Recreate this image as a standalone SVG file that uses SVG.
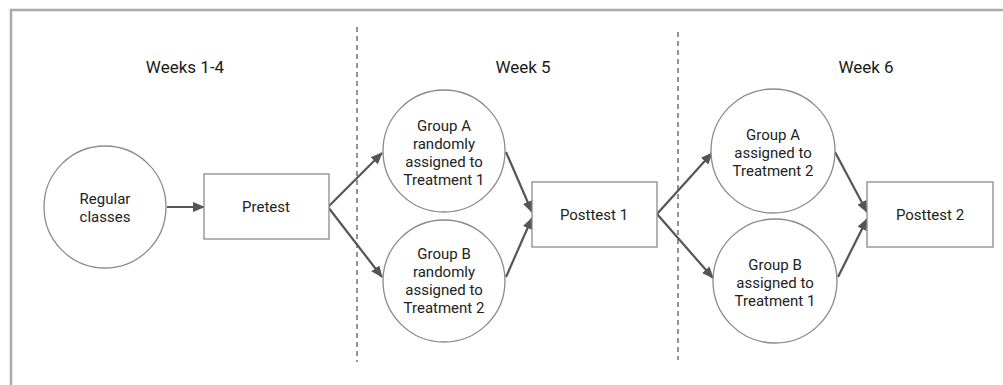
<svg xmlns="http://www.w3.org/2000/svg" width="1003" height="385" viewBox="0 0 1003 385">
<defs>
<marker id="ah" markerWidth="12" markerHeight="10" refX="11" refY="5" orient="auto" markerUnits="userSpaceOnUse">
<path d="M0,0 L12,5 L0,10 Z" fill="#555"/>
</marker>
<style>
.node{fill:#fff;stroke:#8a8a8a;stroke-width:1.3}
.t{font-family:Roboto,"Liberation Sans",sans-serif;font-size:15px;fill:#222;text-anchor:middle}
.h{font-family:Roboto,"Liberation Sans",sans-serif;font-size:17px;fill:#1a1a1a;text-anchor:middle}
.c{stroke:#555;stroke-width:2.2;fill:none;marker-end:url(#ah)}
.d{stroke:#666;stroke-width:1.4;stroke-dasharray:5,4}
</style>
</defs>
<rect width="1003" height="385" fill="#fff"/>
<g id="frame" stroke="#aaa" stroke-width="2.5" fill="none">
<path d="M11,385 L11,10 L1003,10"/>
</g>
<g id="dividers">
<line class="d" x1="357" y1="27" x2="357" y2="362"/>
<line class="d" x1="678" y1="32" x2="678" y2="360"/>
</g>
<g id="headers">
<text class="h" x="185" y="73">Weeks 1-4</text>
<text class="h" x="523" y="73">Week 5</text>
<text class="h" x="866" y="73">Week 6</text>
</g>
<g id="connectors">
<line class="c" x1="167" y1="207" x2="204" y2="207"/>
<line class="c" x1="328" y1="207" x2="382" y2="153"/>
<line class="c" x1="328" y1="207" x2="382" y2="277"/>
<line class="c" x1="506" y1="152" x2="532" y2="212"/>
<line class="c" x1="506" y1="277" x2="532" y2="218"/>
<line class="c" x1="657" y1="214" x2="712" y2="153"/>
<line class="c" x1="657" y1="214" x2="713" y2="278"/>
<line class="c" x1="835" y1="152" x2="867" y2="212"/>
<line class="c" x1="838" y1="277" x2="867" y2="219"/>
</g>
<g id="regular">
<circle class="node" cx="105" cy="207" r="61"/>
<text class="t" x="105" y="204">Regular</text>
<text class="t" x="105" y="222">classes</text>
</g>
<g id="pretest">
<rect class="node" x="204" y="174" width="125" height="65"/>
<text class="t" x="266" y="212">Pretest</text>
</g>
<g id="groupA5">
<circle class="node" cx="444" cy="151" r="61"/>
<text class="t" x="444" y="131">Group A</text>
<text class="t" x="444" y="149">randomly</text>
<text class="t" x="444" y="167">assigned to</text>
<text class="t" x="444" y="185">Treatment 1</text>
</g>
<g id="groupB5">
<circle class="node" cx="444" cy="281" r="61"/>
<text class="t" x="444" y="259">Group B</text>
<text class="t" x="444" y="277">randomly</text>
<text class="t" x="444" y="295">assigned to</text>
<text class="t" x="444" y="313">Treatment 2</text>
</g>
<g id="posttest1">
<rect class="node" x="532" y="182" width="125" height="65"/>
<text class="t" x="594" y="220">Posttest 1</text>
</g>
<g id="groupA6">
<circle class="node" cx="773" cy="151" r="62"/>
<text class="t" x="773" y="140">Group A</text>
<text class="t" x="773" y="158">assigned to</text>
<text class="t" x="773" y="176">Treatment 2</text>
</g>
<g id="groupB6">
<circle class="node" cx="775" cy="281" r="62"/>
<text class="t" x="775" y="270">Group B</text>
<text class="t" x="775" y="288">assigned to</text>
<text class="t" x="775" y="306">Treatment 1</text>
</g>
<g id="posttest2">
<rect class="node" x="867" y="182" width="126" height="65"/>
<text class="t" x="930" y="220">Posttest 2</text>
</g>
</svg>
